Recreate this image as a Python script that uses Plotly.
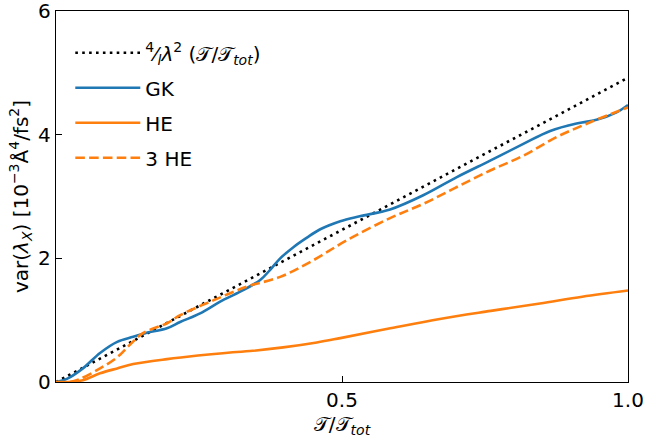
import plotly.graph_objects as go

# --- data ---
t_ref = [0.0, 1.0]
ref_vals = [0.0, 4.92]

t_gk = [0.0, 0.019, 0.047, 0.077, 0.107, 0.135, 0.156, 0.194, 0.217, 0.252, 0.287, 0.322,
        0.357, 0.374, 0.392, 0.415, 0.438, 0.462, 0.497, 0.531, 0.584, 0.642, 0.700,
        0.759, 0.817, 0.864, 0.910, 0.945, 0.980, 1.0]
gk_vals = [0.0, 0.05, 0.22, 0.47, 0.65, 0.73, 0.79, 0.87, 0.97, 1.11, 1.30, 1.46,
           1.65, 1.81, 2.00, 2.18, 2.33, 2.47, 2.60, 2.68, 2.79, 3.02, 3.31,
           3.58, 3.85, 4.06, 4.18, 4.24, 4.36, 4.48]

t_he = [0.0, 0.024, 0.047, 0.077, 0.107, 0.135, 0.194, 0.222, 0.309, 0.339, 0.397,
        0.456, 0.497, 0.58, 0.671, 0.76, 0.846, 0.92, 1.0]
he_vals = [0.0, 0.0, 0.03, 0.14, 0.22, 0.29, 0.37, 0.40, 0.48, 0.50, 0.56,
           0.64, 0.71, 0.86, 1.02, 1.15, 1.27, 1.38, 1.48]

t_3he = [0.0, 0.024, 0.042, 0.077, 0.107, 0.129, 0.152, 0.194, 0.217, 0.275, 0.333,
         0.392, 0.45, 0.508, 0.584, 0.642, 0.700, 0.759, 0.817, 0.875, 0.934, 1.0]
he3_vals = [0.0, 0.0, 0.05, 0.22, 0.40, 0.60, 0.79, 0.95, 1.08, 1.32, 1.54,
            1.70, 1.97, 2.29, 2.65, 2.88, 3.15, 3.42, 3.66, 3.96, 4.20, 4.44]

x_ticks = [0.5, 1.0]
x_ticklabels = ["0.5", "1.0"]
y_ticks = [0, 2, 4, 6]

BLUE = "#1f77b4"
ORANGE = "#ff7f0e"
FONT = "DejaVu Sans"
LW = 2.6
FS = 20

fig = go.Figure()
fig.add_trace(go.Scatter(
    x=t_ref, y=ref_vals, mode="lines", legendgroup="a",
    name="<sup>4</sup>⁄<sub><i>l</i></sub><i>λ</i><sup>2</sup> (𝒯/𝒯<sub><i>tot</i></sub>)",
    line=dict(color="black", width=LW, dash="2.6px,4.3px")))
fig.add_trace(go.Scatter(
    x=t_gk, y=gk_vals, mode="lines", name="GK", legendgroup="b",
    line=dict(color=BLUE, width=LW, shape="spline", smoothing=1.0)))
fig.add_trace(go.Scatter(
    x=t_he, y=he_vals, mode="lines", name="HE", legendgroup="c",
    line=dict(color=ORANGE, width=LW, shape="spline", smoothing=1.0)))
fig.add_trace(go.Scatter(
    x=t_3he, y=he3_vals, mode="lines", name="3 HE", legendgroup="d",
    line=dict(color=ORANGE, width=LW, dash="9.6px,4.2px", shape="spline", smoothing=1.0)))

fig.update_layout(
    width=646, height=441,
    margin=dict(l=56, r=18, t=11, b=59),
    plot_bgcolor="white", paper_bgcolor="white",
    font=dict(family=FONT, size=FS, color="black"),
    showlegend=True,
    legend=dict(x=0.025, y=0.94, xanchor="left", yanchor="top",
                bgcolor="rgba(0,0,0,0)", borderwidth=0,
                font=dict(size=FS), tracegroupgap=6, itemwidth=65),
)
fig.update_xaxes(
    range=[0, 1.0], tickvals=x_ticks, ticktext=x_ticklabels,
    ticks="inside", ticklen=6, tickwidth=1.2, tickcolor="black",
    showline=True, linecolor="black", linewidth=1.3, mirror=True,
    showgrid=False, zeroline=False, automargin=False,
    ticklabeloverflow="allow",
    title=dict(text="𝒯/𝒯<sub><i>tot</i></sub>", font=dict(size=FS), standoff=2),
)
fig.update_yaxes(
    range=[0, 6], tickvals=y_ticks,
    ticks="inside", ticklen=6, tickwidth=1.2, tickcolor="black",
    showline=True, linecolor="black", linewidth=1.3, mirror=True,
    showgrid=False, zeroline=False, automargin=False,
    ticklabeloverflow="allow",
    title=dict(text="var(<i>λ</i><sub><i>X</i></sub>) [10<sup>−3</sup>Å<sup>4</sup>/fs<sup>2</sup>]",
               font=dict(size=FS), standoff=4),
)

fig.write_html("out.html", config={"displayModeBar": False},
               post_script="document.body.style.margin='0';")
